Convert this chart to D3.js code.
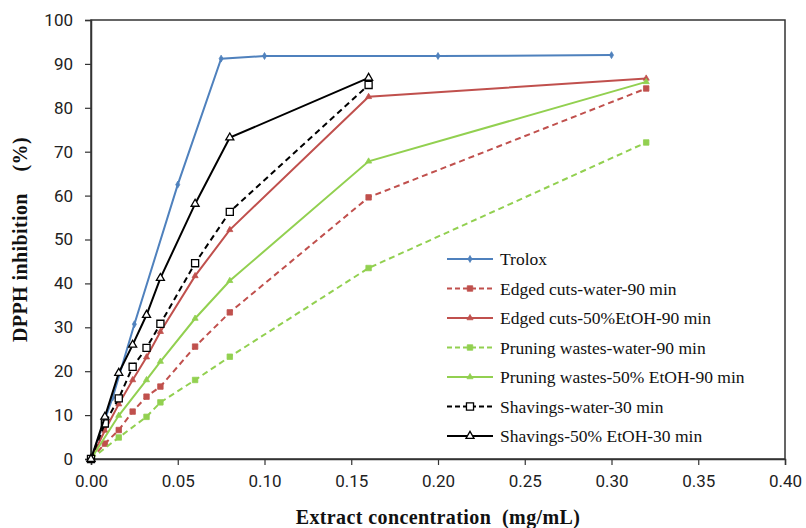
<!DOCTYPE html>
<html>
<head>
<meta charset="utf-8">
<script src="https://cdn.jsdelivr.net/npm/d3@7"></script>
<style>
  body { margin: 0; background: #fff; }
  #app { width: 806px; height: 528px; }
</style>
</head>
<body>
<div id="app"></div>
<script>
const container = document.querySelector('#app');

// chart size and margins
const width = 806;
const height = 528;
const marginTop = 20;
const marginRight = 21;
const marginBottom = 69;
const marginLeft = 91;

// data
const xTicks = [0, 0.05, 0.1, 0.15, 0.2, 0.25, 0.3, 0.35, 0.4];
const yTicks = [0, 10, 20, 30, 40, 50, 60, 70, 80, 90, 100];

const troloxX = [0, 0.0125, 0.025, 0.05, 0.075, 0.1, 0.2, 0.3];
const troloxY = [0, 14, 30.7, 62.5, 91.2, 91.8, 91.8, 92];

const edgedWaterX = [0, 0.008, 0.016, 0.024, 0.032, 0.04, 0.06, 0.08, 0.16, 0.32];
const edgedWaterY = [0, 3.5, 6.6, 10.8, 14.2, 16.5, 25.6, 33.4, 59.6, 84.4];

const edgedEtohX = [0, 0.008, 0.016, 0.024, 0.032, 0.04, 0.06, 0.08, 0.16, 0.32];
const edgedEtohY = [0, 6.5, 12.5, 18, 23.2, 29, 41.7, 52.2, 82.5, 86.7];

const pruningWaterX = [0, 0.016, 0.032, 0.04, 0.06, 0.08, 0.16, 0.32];
const pruningWaterY = [0, 4.9, 9.6, 12.9, 18, 23.3, 43.5, 72.1];

const pruningEtohX = [0, 0.016, 0.032, 0.04, 0.06, 0.08, 0.16, 0.32];
const pruningEtohY = [0, 9.9, 18, 22.2, 32, 40.6, 67.8, 85.9];

const shavWaterX = [0, 0.008, 0.016, 0.024, 0.032, 0.04, 0.06, 0.08, 0.16];
const shavWaterY = [0, 8.1, 13.8, 21, 25.3, 30.8, 44.6, 56.3, 85.2];

const shavEtohX = [0, 0.008, 0.016, 0.024, 0.032, 0.04, 0.06, 0.08, 0.16];
const shavEtohY = [0, 9.6, 19.6, 26, 32.8, 41.2, 58.1, 73.2, 86.8];

const seriesNames = [
  "Trolox",
  "Edged cuts-water-90 min",
  "Edged cuts-50%EtOH-90 min",
  "Pruning wastes-water-90 min",
  "Pruning wastes-50% EtOH-90 min",
  "Shavings-water-30 min",
  "Shavings-50% EtOH-30 min"
];

// styles per series
const series = [
  { name: seriesNames[0], xs: troloxX, ys: troloxY, color: "#4F81BD", dash: null, symbol: d3.symbolDiamond, size: 14, fill: true },
  { name: seriesNames[1], xs: edgedWaterX, ys: edgedWaterY, color: "#C0504D", dash: "6,4", symbol: d3.symbolSquare, size: 30, fill: true },
  { name: seriesNames[2], xs: edgedEtohX, ys: edgedEtohY, color: "#C0504D", dash: null, symbol: d3.symbolTriangle, size: 16, fill: true },
  { name: seriesNames[3], xs: pruningWaterX, ys: pruningWaterY, color: "#92D050", dash: "6,4", symbol: d3.symbolSquare, size: 30, fill: true },
  { name: seriesNames[4], xs: pruningEtohX, ys: pruningEtohY, color: "#92D050", dash: null, symbol: d3.symbolTriangle, size: 16, fill: true },
  { name: seriesNames[5], xs: shavWaterX, ys: shavWaterY, color: "#000000", dash: "6,4", symbol: d3.symbolSquare, size: 50, fill: false },
  { name: seriesNames[6], xs: shavEtohX, ys: shavEtohY, color: "#000000", dash: null, symbol: d3.symbolTriangle, size: 28, fill: false }
];

// scales
const x = d3.scaleLinear()
    .domain([0, 0.4])
    .range([marginLeft, width - marginRight]);

const y = d3.scaleLinear()
    .domain([0, 100])
    .range([height - marginBottom, marginTop]);

const svg = d3.create("svg")
    .attr("width", width)
    .attr("height", height)
    .style("font-family", "Roboto, 'Liberation Sans', sans-serif");

// plot area border
svg.append("rect")
    .attr("x", marginLeft)
    .attr("y", marginTop)
    .attr("width", width - marginRight - marginLeft)
    .attr("height", height - marginBottom - marginTop)
    .attr("fill", "none")
    .attr("stroke", "#333")
    .attr("stroke-width", 1.5);

// x-axis
const xAxis = svg.append("g")
    .attr("transform", `translate(0,${height - marginBottom})`)
    .call(d3.axisBottom(x).tickValues(xTicks).tickFormat(d3.format(".2f")).tickSize(6).tickPadding(10));

// y-axis
const yAxis = svg.append("g")
    .attr("transform", `translate(${marginLeft},0)`)
    .call(d3.axisLeft(y).tickValues(yTicks).tickSize(6).tickPadding(12));

[xAxis, yAxis].forEach(g => {
  g.select(".domain").attr("stroke", "#333").attr("stroke-width", 1.5);
  g.selectAll(".tick line").attr("stroke", "#333").attr("stroke-width", 1.2);
  g.selectAll(".tick text")
    .attr("fill", "#222")
    .style("font-size", "17px")
    .style("font-family", "Roboto, sans-serif");
});

// axis titles
svg.append("text")
    .attr("x", (marginLeft + width - marginRight) / 2)
    .attr("y", 524)
    .attr("text-anchor", "middle")
    .style("font-family", "'Liberation Serif', 'Times New Roman', serif")
    .style("font-weight", "bold")
    .style("font-size", "20px")
    .style("letter-spacing", "0.4px")
    .attr("fill", "#111")
    .attr("xml:space", "preserve")
    .text("Extract concentration  (mg/mL)");

svg.append("text")
    .attr("transform", `translate(27,${(marginTop + height - marginBottom) / 2}) rotate(-90)`)
    .attr("text-anchor", "middle")
    .style("font-family", "'Liberation Serif', 'Times New Roman', serif")
    .style("font-weight", "bold")
    .style("font-size", "20px")
    .style("letter-spacing", "0.4px")
    .attr("fill", "#111")
    .attr("xml:space", "preserve")
    .text("DPPH inhibition    (%)");

// lines and markers
const line = d3.line()
    .x(d => x(d[0]))
    .y(d => y(d[1]));

series.forEach(s => {
  const pts = s.xs.map((v, i) => [v, s.ys[i]]);
  svg.append("path")
      .datum(pts)
      .attr("fill", "none")
      .attr("stroke", s.color)
      .attr("stroke-width", 2)
      .attr("stroke-dasharray", s.dash)
      .attr("d", line);

  svg.append("g")
    .selectAll("path")
    .data(pts)
    .join("path")
      .attr("transform", d => `translate(${x(d[0])},${y(d[1])})`)
      .attr("d", d3.symbol(s.symbol, s.size))
      .attr("fill", s.fill ? s.color : "#fff")
      .attr("stroke", s.color)
      .attr("stroke-width", s.fill ? 0.8 : 1.3);
});

// legend
const legend = svg.append("g")
    .attr("transform", "translate(447,259)");

series.forEach((s, i) => {
  const row = legend.append("g").attr("transform", `translate(0,${i * 29.5})`);
  row.append("rect")
      .attr("x", -4).attr("y", -12)
      .attr("width", 320).attr("height", 24)
      .attr("fill", "#fff");
  row.append("line")
      .attr("x1", 0).attr("x2", 46)
      .attr("stroke", s.color)
      .attr("stroke-width", 2)
      .attr("stroke-dasharray", s.dash ? "5,3" : null);
  row.append("path")
      .attr("transform", "translate(23,0)")
      .attr("d", d3.symbol(s.symbol, s.size))
      .attr("fill", s.fill ? s.color : "#fff")
      .attr("stroke", s.color)
      .attr("stroke-width", s.fill ? 0.8 : 1.3);
  row.append("text")
      .attr("x", 53)
      .attr("dy", "0.35em")
      .style("font-family", "'Liberation Serif', 'Times New Roman', serif")
      .style("font-size", "17.5px")
      .attr("fill", "#111")
      .text(s.name);
});

container.append(svg.node());
</script>
</body>
</html>
